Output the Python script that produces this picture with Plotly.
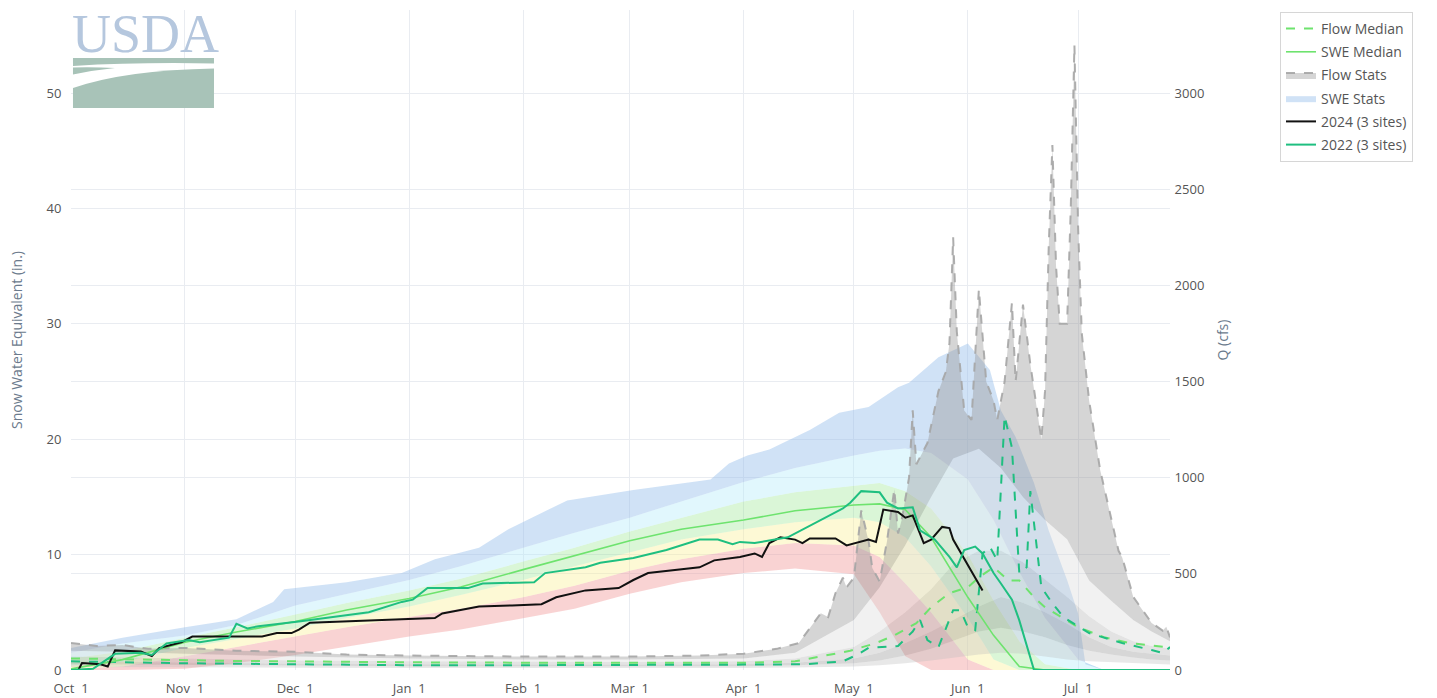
import plotly.graph_objects as go

# ---------------- SWE statistics (inches) ----------------
swe_dates = ["2023-10-01", "2023-10-15", "2023-11-01", "2023-11-15", "2023-12-01", "2023-12-15",
             "2024-01-01", "2024-01-15", "2024-02-01", "2024-02-15", "2024-03-01", "2024-03-15",
             "2024-04-01", "2024-04-15", "2024-05-01", "2024-05-08", "2024-05-15", "2024-05-22",
             "2024-06-01", "2024-06-08", "2024-06-15", "2024-06-22", "2024-07-01", "2024-07-08",
             "2024-07-15", "2024-07-26"]
swe_p90 = [1.5, 2.3, 3.0, 3.9, 5.6, 6.6, 7.8, 9.0, 10.6, 11.9, 13.2, 14.6, 16.3, 17.5, 18.6, 19.0,
           19.2, 18.8, 16.5, 13.0, 8.5, 4.5, 0.9, 0, 0, 0]
swe_p70 = [1.0, 1.6, 2.8, 3.7, 4.8, 5.8, 6.9, 7.9, 9.4, 10.6, 12.0, 13.2, 14.6, 15.4, 16.0, 16.2,
           15.5, 14.0, 10.0, 6.0, 2.5, 0.5, 0, 0, 0, 0]
swe_p30 = [0.4, 0.7, 1.9, 2.7, 3.6, 4.5, 5.5, 6.5, 7.8, 9.0, 10.2, 11.3, 12.2, 12.8, 13.2, 12.8,
           11.5, 9.0, 4.5, 0.9, 0, 0, 0, 0, 0, 0]
swe_p10 = [0.1, 0.3, 1.2, 2.0, 2.9, 3.7, 4.6, 5.3, 6.3, 7.3, 8.6, 9.6, 10.5, 11.0, 10.8, 9.8,
           7.5, 5.0, 0.9, 0, 0, 0, 0, 0, 0, 0]
swe_min = [0, 0, 0.1, 0.6, 1.3, 2.0, 2.9, 3.5, 4.5, 5.3, 6.6, 7.6, 8.4, 8.8, 8.3, 5.0,
           1.2, 0, 0, 0, 0, 0, 0, 0, 0, 0]
swe_median = [0.1, 0.9, 2.4, 3.3, 4.2, 5.2, 6.2, 7.2, 8.7, 9.9, 11.2, 12.2, 13.0, 13.8, 14.3, 14.4,
              13.9, 11.5, 6.3, 3.0, 0.3, 0, 0, 0, 0, 0]

swe_max_dates = ["2023-10-01", "2023-10-15", "2023-11-01", "2023-11-15", "2023-11-25", "2023-11-28",
                 "2023-12-15", "2023-12-30", "2024-01-08", "2024-01-20", "2024-01-28", "2024-02-04",
                 "2024-02-13", "2024-03-02", "2024-03-23", "2024-03-28", "2024-04-02", "2024-04-08",
                 "2024-04-19", "2024-04-27", "2024-05-05", "2024-05-13", "2024-05-16", "2024-05-24",
                 "2024-06-01", "2024-06-07", "2024-06-10", "2024-06-14", "2024-06-19", "2024-06-23",
                 "2024-06-28", "2024-07-01", "2024-07-03", "2024-07-08", "2024-07-26"]
swe_max = [1.9, 2.8, 3.7, 4.4, 5.9, 7.0, 7.6, 8.4, 9.6, 10.6, 12.2, 13.3, 14.7, 15.6, 16.5, 17.9,
           18.6, 19.1, 20.8, 22.3, 22.8, 24.5, 24.9, 27.1, 28.3, 26.0, 22.5, 20.2, 16.2, 12.1,
           7.8, 4.9, 0.5, 0, 0]

# ---------------- SWE by year (inches) ----------------
swe_2024_dates = ["2023-10-01", "2023-10-03", "2023-10-04", "2023-10-09", "2023-10-11", "2023-10-13",
                  "2023-10-20", "2023-10-23", "2023-10-25", "2023-10-29", "2023-10-31", "2023-11-03",
                  "2023-11-22", "2023-11-26", "2023-11-30", "2023-12-02", "2023-12-05", "2023-12-30",
                  "2024-01-08", "2024-01-10", "2024-01-20", "2024-01-29", "2024-02-06", "2024-02-10",
                  "2024-02-18", "2024-02-27", "2024-03-02", "2024-03-06", "2024-03-20", "2024-03-24",
                  "2024-03-31", "2024-04-04", "2024-04-06", "2024-04-08", "2024-04-11", "2024-04-15",
                  "2024-04-17", "2024-04-19", "2024-04-26", "2024-04-29", "2024-05-05", "2024-05-07",
                  "2024-05-09", "2024-05-13", "2024-05-15", "2024-05-17", "2024-05-20", "2024-05-22",
                  "2024-05-25", "2024-05-27", "2024-05-28", "2024-06-05"]
swe_2024 = [0.0, 0.0, 0.6, 0.5, 0.3, 1.7, 1.6, 1.2, 1.9, 2.2, 2.4, 2.9, 2.9, 3.2, 3.2, 3.5, 4.1, 4.4,
            4.5, 4.9, 5.5, 5.6, 5.7, 6.3, 6.9, 7.1, 7.8, 8.4, 8.9, 9.5, 9.8, 10.1, 9.8, 11.0, 11.5, 11.3,
            11.0, 11.4, 11.4, 10.8, 11.3, 11.1, 13.9, 13.7, 13.2, 13.4, 11.0, 11.3, 12.4, 12.3, 11.3, 6.9]

swe_2022_dates = ["2023-10-01", "2023-10-07", "2023-10-13", "2023-10-20", "2023-10-23", "2023-10-27",
                  "2023-11-02", "2023-11-05", "2023-11-13", "2023-11-15", "2023-11-18", "2023-11-21",
                  "2023-12-02", "2023-12-11", "2023-12-21", "2023-12-30", "2024-01-02", "2024-01-06",
                  "2024-01-17", "2024-01-21", "2024-02-04", "2024-02-07", "2024-02-18", "2024-02-22",
                  "2024-03-02", "2024-03-11", "2024-03-20", "2024-03-25", "2024-03-29", "2024-03-31",
                  "2024-04-04", "2024-04-13", "2024-04-22", "2024-04-28", "2024-04-30", "2024-05-03",
                  "2024-05-08", "2024-05-10", "2024-05-13", "2024-05-17", "2024-05-19", "2024-05-23",
                  "2024-05-27", "2024-05-29", "2024-05-31", "2024-06-03", "2024-06-05", "2024-06-08",
                  "2024-06-10", "2024-06-13", "2024-06-15", "2024-06-18", "2024-06-19", "2024-07-26"]
swe_2022 = [0.0, 0.1, 1.4, 1.5, 1.3, 2.3, 2.6, 2.4, 2.8, 4.0, 3.6, 3.8, 4.2, 4.6, 5.0, 5.9, 6.1, 7.1,
            7.1, 7.5, 7.6, 8.4, 8.9, 9.3, 9.7, 10.4, 11.3, 11.3, 10.9, 11.1, 11.0, 11.5, 13.0, 14.0,
            14.5, 15.5, 15.4, 14.5, 14.0, 14.1, 12.1, 11.3, 9.8, 8.9, 10.4, 10.7, 10.1, 8.4, 7.5, 6.1,
            4.3, 0.9, 0.0, 0.0]

# ---------------- Flow statistics (cfs) ----------------
flow_dates = ["2023-10-01", "2023-10-15", "2023-11-01", "2023-12-01", "2024-01-01", "2024-02-01",
              "2024-03-01", "2024-04-01", "2024-04-15", "2024-05-01", "2024-05-08", "2024-05-15",
              "2024-05-22", "2024-05-28", "2024-06-04", "2024-06-10", "2024-06-16", "2024-06-22",
              "2024-06-28", "2024-07-04", "2024-07-10", "2024-07-16", "2024-07-21", "2024-07-26"]
flow_p90 = [100, 95, 85, 70, 60, 55, 55, 60, 90, 260, 430, 650, 900, 1100, 1150, 1050, 900, 780,
            680, 466, 360, 260, 200, 150]
flow_p70 = [70, 65, 60, 50, 45, 42, 42, 45, 60, 120, 200, 300, 420, 550, 620, 620, 560, 470,
            380, 280, 200, 150, 125, 110]
flow_p30 = [45, 42, 38, 33, 30, 28, 28, 30, 38, 60, 90, 140, 200, 260, 330, 380, 350, 300,
            240, 170, 120, 95, 85, 75]
flow_p10 = [30, 28, 25, 22, 20, 19, 19, 20, 25, 35, 50, 75, 110, 150, 200, 220, 200, 170,
            130, 100, 80, 65, 55, 50]
flow_min = [15, 15, 14, 12, 11, 10, 10, 11, 13, 18, 25, 35, 50, 65, 80, 90, 85, 70,
            55, 45, 40, 35, 30, 28]

flow_max_dates = ["2023-10-01", "2023-10-08", "2023-10-15", "2023-10-22", "2023-11-01", "2023-11-15",
                  "2023-12-01", "2023-12-15", "2024-01-01", "2024-02-01", "2024-03-01", "2024-03-20",
                  "2024-04-01", "2024-04-10", "2024-04-16", "2024-04-22", "2024-04-24", "2024-04-26",
                  "2024-04-28", "2024-04-29", "2024-05-01", "2024-05-03", "2024-05-05", "2024-05-06",
                  "2024-05-08", "2024-05-10", "2024-05-12", "2024-05-13", "2024-05-14", "2024-05-16",
                  "2024-05-17", "2024-05-18", "2024-05-21", "2024-05-24", "2024-05-26", "2024-05-27",
                  "2024-05-28", "2024-05-29", "2024-05-31", "2024-06-02", "2024-06-04", "2024-06-06",
                  "2024-06-08", "2024-06-09", "2024-06-11", "2024-06-13", "2024-06-14", "2024-06-16",
                  "2024-06-18", "2024-06-21", "2024-06-22", "2024-06-23", "2024-06-24", "2024-06-25",
                  "2024-06-26", "2024-06-28", "2024-06-29", "2024-06-30", "2024-07-01", "2024-07-02",
                  "2024-07-04", "2024-07-07", "2024-07-12", "2024-07-13", "2024-07-16", "2024-07-21",
                  "2024-07-24", "2024-07-25", "2024-07-26"]
flow_max = [140, 125, 130, 110, 115, 100, 95, 80, 75, 70, 70, 75, 85, 110, 140, 295, 275, 400,
            480, 430, 480, 830, 670, 530, 460, 670, 940, 710, 780, 1000, 1350, 1070, 1180, 1450,
            1550, 1700, 2250, 1760, 1350, 1300, 1980, 1500, 1400, 1300, 1500, 1910, 1500, 1900,
            1590, 1200, 1450, 2200, 2730, 2100, 1800, 1800, 2400, 3250, 2300, 1750, 1400, 1040,
            620, 585, 380, 245, 205, 225, 170]

flow_median_dates = ["2023-10-01", "2023-10-15", "2023-11-01", "2023-11-15", "2023-12-01", "2023-12-15",
                     "2024-01-01", "2024-02-01", "2024-03-01", "2024-04-01", "2024-04-15", "2024-04-30",
                     "2024-05-07", "2024-05-12", "2024-05-18", "2024-05-22", "2024-05-27", "2024-06-01",
                     "2024-06-04", "2024-06-08", "2024-06-12", "2024-06-15", "2024-06-19", "2024-06-22",
                     "2024-06-26", "2024-07-01", "2024-07-08", "2024-07-15", "2024-07-26"]
flow_median = [60, 55, 50, 47, 45, 42, 40, 38, 38, 38, 45, 100, 140, 180, 244, 326, 400, 430,
               482, 534, 466, 466, 378, 326, 280, 223, 171, 140, 117]

flow_2022_dates = ["2023-10-01", "2023-11-01", "2023-12-01", "2024-01-01", "2024-02-01", "2024-03-01",
                   "2024-04-01", "2024-04-18", "2024-04-28", "2024-05-02", "2024-05-05", "2024-05-13",
                   "2024-05-17", "2024-05-19", "2024-05-21", "2024-05-24", "2024-05-28", "2024-05-30",
                   "2024-06-01", "2024-06-03", "2024-06-04", "2024-06-05", "2024-06-07", "2024-06-09",
                   "2024-06-11", "2024-06-13", "2024-06-15", "2024-06-17", "2024-06-18", "2024-06-21",
                   "2024-06-24", "2024-06-27", "2024-07-04", "2024-07-13", "2024-07-21", "2024-07-24",
                   "2024-07-26"]
flow_2022 = [45, 35, 30, 25, 25, 25, 28, 30, 45, 80, 115, 125, 200, 260, 155, 119, 311, 311,
             223, 207, 399, 606, 640, 570, 1320, 1155, 503, 534, 930, 430, 347, 275, 192, 140,
             104, 88, 119]

SWE_MAX_Y = 57.2
FLOW_MAX_Y = 3432

C_2022 = "#1fbf80"
C_MED = "#6ee36e"

fig = go.Figure()

# SWE percentile bands (left axis)
fig.add_trace(go.Scatter(x=swe_dates, y=swe_min, yaxis="y", mode="lines", line=dict(width=0),
                         showlegend=False, legendgroup="swe", hoverinfo="skip"))
swe_bands = [
    (swe_p10, "rgba(240,150,150,0.42)"),
    (swe_p30, "rgba(250,240,150,0.40)"),
    (swe_p70, "rgba(150,230,140,0.35)"),
    (swe_p90, "rgba(180,235,250,0.40)"),
]
for vals, col in swe_bands:
    fig.add_trace(go.Scatter(x=swe_dates, y=vals, yaxis="y", mode="lines", line=dict(width=0),
                             fill="tonexty", fillcolor=col, showlegend=False,
                             legendgroup="swe", hoverinfo="skip"))
fig.add_trace(go.Scatter(x=swe_max_dates, y=swe_max, yaxis="y", mode="lines", line=dict(width=0),
                         fill="tonexty", fillcolor="rgba(150,190,235,0.45)", name="SWE Stats",
                         legendgroup="swe", legendrank=4))

# Flow percentile bands (right axis)
fig.add_trace(go.Scatter(x=flow_dates, y=flow_min, yaxis="y2", mode="lines", line=dict(width=0),
                         showlegend=False, legendgroup="flow", hoverinfo="skip"))
flow_bands = [
    (flow_p10, "rgba(190,190,190,0.35)"),
    (flow_p30, "rgba(140,140,140,0.35)"),
    (flow_p70, "rgba(175,175,175,0.35)"),
    (flow_p90, "rgba(215,215,215,0.35)"),
]
for vals, col in flow_bands:
    fig.add_trace(go.Scatter(x=flow_dates, y=vals, yaxis="y2", mode="lines", line=dict(width=0),
                             fill="tonexty", fillcolor=col, showlegend=False,
                             legendgroup="flow", hoverinfo="skip"))
fig.add_trace(go.Scatter(x=flow_max_dates, y=flow_max, yaxis="y2", mode="lines",
                         line=dict(width=2, color="rgba(165,165,165,0.9)", dash="dash"),
                         fill="tonexty", fillcolor="rgba(150,150,150,0.40)", name="Flow Stats",
                         legendgroup="flow", legendrank=3))

# Flow lines
fig.add_trace(go.Scatter(x=flow_median_dates, y=flow_median, yaxis="y2", mode="lines",
                         line=dict(width=2, color=C_MED, dash="dash"), name="Flow Median",
                         legendgroup="fmed", legendrank=1))
fig.add_trace(go.Scatter(x=flow_2022_dates, y=flow_2022, yaxis="y2", mode="lines",
                         line=dict(width=2, color=C_2022, dash="dash"), name="2022 flow",
                         legendgroup="y2022", showlegend=False))

# SWE lines (on top)
fig.add_trace(go.Scatter(x=swe_dates, y=swe_median, yaxis="y3", mode="lines",
                         line=dict(width=1.6, color=C_MED), name="SWE Median",
                         legendgroup="smed", legendrank=2))
fig.add_trace(go.Scatter(x=swe_2024_dates, y=swe_2024, yaxis="y3", mode="lines",
                         line=dict(width=2, color="#111111"), name="2024 (3 sites)",
                         legendgroup="y2024", legendrank=5))
fig.add_trace(go.Scatter(x=swe_2022_dates, y=swe_2022, yaxis="y3", mode="lines",
                         line=dict(width=2, color=C_2022), name="2022 (3 sites)",
                         legendgroup="y2022", legendrank=6))

# USDA logo drawn in pixel-like units, converted to paper coords
L, R, T, B = 71, 1170, 10, 670


def pp(x, y):
    return (x - L) / (R - L), (B - y) / (B - T)


def ps(x, y):
    a, b = pp(x, y)
    return f"{a:.4f},{b:.4f}"


LOGO_GREEN = "#a8c3b8"
logo_paths = [
    f"M {ps(73, 58)} L {ps(214, 58)} L {ps(214, 63.5)} Q {ps(140, 62)} {ps(73, 66)} Z",
    f"M {ps(73, 67.5)} Q {ps(95, 67)} {ps(115, 68)} Q {ps(95, 70)} {ps(73, 74.5)} Z",
    f"M {ps(73, 88)} Q {ps(125, 70)} {ps(214, 68.5)} L {ps(214, 108)} L {ps(73, 108)} Z",
]
shapes = [dict(type="path", path=p, xref="paper", yref="paper", fillcolor=LOGO_GREEN,
               line=dict(width=0), layer="above") for p in logo_paths]

logo_x, logo_y = pp(70, 33.5)
legend_x, legend_y = pp(1280, 12)

grid = "#e9ecf1"
tick_clear = dict(ticks="outside", tickcolor="rgba(0,0,0,0)", automargin=False)
fig.update_layout(
    template="plotly_white",
    width=1437, height=698,
    margin=dict(l=L, r=1437 - R, t=T, b=698 - B, autoexpand=False),
    font=dict(family="Open Sans, Arial, sans-serif", size=13, color="#555555"),
    showlegend=True,
    legend=dict(x=legend_x, y=legend_y, xanchor="left", yanchor="top", traceorder="grouped",
                tracegroupgap=2, bordercolor="#d6d6d6", borderwidth=1, bgcolor="white",
                font=dict(size=14, color="#555555")),
    xaxis=dict(type="date", range=["2023-10-01", "2024-07-26"], dtick="M1", tick0="2023-10-01",
               tickformat="%b %e", showgrid=True, gridcolor=grid, zeroline=False, showline=False,
               ticklen=6, **tick_clear),
    yaxis=dict(range=[0, SWE_MAX_Y], tick0=0, dtick=10, gridcolor=grid, zeroline=False,
               showline=False, ticklen=6, **tick_clear,
               title=dict(text="Snow Water Equivalent (in.)", standoff=20,
                          font=dict(size=14, color="#6b7a8c"))),
    yaxis2=dict(overlaying="y", side="right", range=[0, FLOW_MAX_Y], tick0=0, dtick=500,
                gridcolor=grid, zeroline=False, showline=False, ticklen=1, **tick_clear,
                title=dict(text="Q (cfs)", standoff=14, font=dict(size=14, color="#6b7a8c"))),
    yaxis3=dict(overlaying="y", range=[0, SWE_MAX_Y], visible=False),
    shapes=shapes,
    annotations=[dict(text="USDA", xref="paper", yref="paper", x=logo_x, y=logo_y,
                      xanchor="left", yanchor="middle", showarrow=False,
                      font=dict(family="Liberation Serif, serif", size=54, color="#b5c7de"))],
)

fig.write_html("out.html", config={"displayModeBar": False},
               post_script="document.body.style.margin='0';")
